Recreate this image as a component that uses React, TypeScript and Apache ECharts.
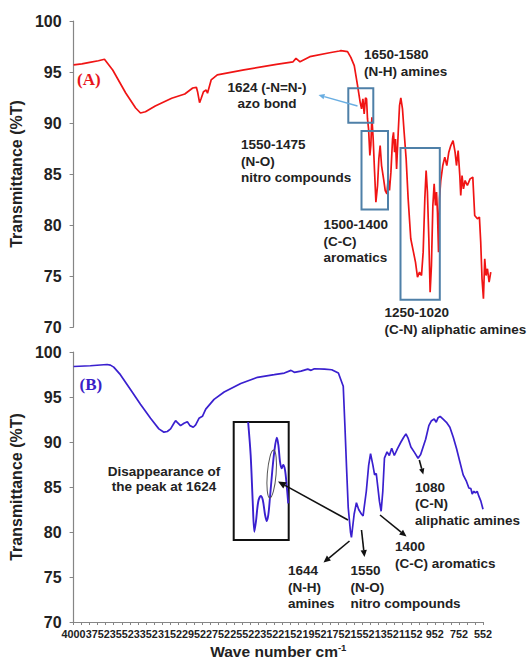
import React, { useEffect, useRef } from "react";
import * as echarts from "echarts";

// ---- Data ----
const xTickLabels = ["4000","3752","3552","3352","3152","2952","2752","2552","2352","2152","1952","1752","1552","1352","1152","952","752","552"];
const yTicks = [70, 75, 80, 85, 90, 95, 100];

const topWavenumber = [4000,3930,3864,3790,3739,3669,3559,3475,3434,3392,3309,3170,3059,2992,2961,2951,2934,2920,2901,2878,2867,2836,2784,2559,2284,2143,2118,2084,2001,1834,1751,1738,1682,
  1654,1625,1597,1575,1563,1552,1541,1530,1521,1513,1504,1493,1485,1476,1465,1453,1442,1428,1417,1406,1394,1377,1363,1349,1338,1327,1315,1301,1293,1284,1276,1267,1253,1242,1231,1217,1203,1186,1169,1147,1124,1107,1090,1073,1056,1042,1028,1017,1006,994,983,972,960,949,938,929,921,912,904,893,876,859,842,825,808,789,772,760,746,732,724,713,701,687,668,645,622,606,583,566,555,544,532,521,510,498,484,470];
const topTransmittance = [95.69,95.8,95.95,96.1,96.25,95.2,92.94,91.47,90.98,91.1,91.67,92.42,92.84,93.43,93.5,93.07,91.99,92.42,93.07,93.24,92.91,94.22,94.71,95.2,95.75,96.0,96.34,96.0,96.5,96.89,97.06,97.09,97.0,
  96.44,95.62,93.67,92.03,91.38,92.36,90.89,92.46,92.36,90.4,89.42,86.81,87.79,90.56,88.44,85.18,82.24,83.87,86.48,87.79,85.83,84.52,83.38,83.05,84.52,83.38,85.18,88.44,89.09,87.14,88.44,85.5,89.09,91.71,92.46,91.38,89.09,86.48,82.56,78.65,77.34,76.36,74.89,75.38,75.05,77.34,82.56,85.34,83.22,78.65,73.42,76.03,81.91,84.03,81.91,83.22,81.26,77.34,82.56,84.36,85.83,86.65,85.83,87.14,87.79,88.28,87.14,85.83,87.3,84.85,82.89,84.85,83.54,84.36,83.87,84.52,84.69,80.93,80.61,80.77,78.32,74.73,72.77,76.69,75.05,75.71,74.4,75.38];

const bottomWavenumber = [4000,3859,3718,3690,3662,3606,3521,3437,3352,3282,3239,3211,3183,3155,3141,3127,3099,3070,3042,3020,2992,2972,2944,2915,2887,2817,2732,2592,2451,2310,2225,2169,2141,2085,2028,2000,1972,1887,1826,1770,1729,1715,1701,1687,1668,1660,1637,1618,1599,1576,1562,1535,1515,1499,1479,1465,1451,1437,1424,1410,1396,1382,1360,1341,1321,1299,1271,1243,1221,1201,1182,1159,1132,1099,1077,1035,1008,986,963,946,930,913,888,860,831,803,775,747,719,691,671,654,643,629,615,601,587,570,552];
const bottomTransmittance = [98.39,98.47,98.61,98.54,98.32,97.48,95.84,94.2,92.63,91.46,91.09,91.17,91.46,92.08,92.37,92.19,91.82,92.08,92.26,91.82,91.64,91.9,92.63,92.85,93.65,94.74,95.55,96.5,97.19,97.48,97.66,97.96,97.74,97.88,98.1,97.96,98.14,98.1,98.03,97.67,96.2,91.8,87.1,82.7,80.0,79.4,82.0,83.25,82.5,82.0,81.8,84.5,87.4,88.7,87.4,86.35,86.5,84.9,83.4,82.3,84.5,88.2,88.9,88.5,89.3,88.5,89.3,90.0,90.5,90.9,90.4,89.45,88.9,88.2,88.6,90.3,91.82,92.37,92.55,92.19,92.7,92.85,92.55,92.19,91.64,90.55,89.27,87.81,86.35,85.62,84.89,84.82,84.23,84.53,84.34,84.53,83.98,83.43,82.52];

const insetWavenumber = [1657,1646,1637,1630,1623,1613,1602,1593,1583,1576,1569,1562,1552,1543,1532,1525,1518,1511,1504,1496,1489,1482];
const insetTransmittance = [93.0,89.08,83.54,79.98,81.17,83.54,84.22,83.74,81.97,81.25,81.97,83.95,87.1,89.47,91.14,90.27,88.29,87.5,87.9,87.3,85.52,83.35];

const zip = (xs: number[], ys: number[]) => xs.map((x, i) => [x, ys[i]]);

const FONT = '"Liberation Sans", Arial, sans-serif';
const TXT = "#222";
const AXIS = "#858585";

const WN_MAX = 4000;
const WN_MIN = 552;
const labelStep = (WN_MAX - WN_MIN) / 17;
const tickStep = (WN_MAX - WN_MIN) / 51;
const labelValues = xTickLabels.map((_, i) => WN_MAX - i * labelStep);
const tickValues = Array.from({ length: 52 }, (_, k) => WN_MAX - k * tickStep);

function textLines(lines: string[], x: number, y0: number, dy: number, align: string = "left", size = 13.5) {
  return lines.map((t, i) => ({
    type: "text",
    z: 100,
    style: {
      text: t,
      x,
      y: y0 + i * dy,
      fill: TXT,
      font: `bold ${size}px ${FONT}`,
      textAlign: align,
      textVerticalAlign: "middle",
      align,
      verticalAlign: "middle",
    },
  }));
}

function arrow(x1: number, y1: number, x2: number, y2: number, color: string, w = 1.5, head = 7) {
  const ang = Math.atan2(y2 - y1, x2 - x1);
  const bx = x2 - head * Math.cos(ang);
  const by = y2 - head * Math.sin(ang);
  const hw = head * 0.45;
  const px = -Math.sin(ang) * hw;
  const py = Math.cos(ang) * hw;
  return [
    { type: "line", z: 100, shape: { x1, y1, x2: bx, y2: by }, style: { stroke: color, lineWidth: w } },
    {
      type: "polygon",
      z: 100,
      shape: { points: [[x2, y2], [bx + px, by + py], [bx - px, by - py]] },
      style: { fill: color },
    },
  ];
}

function rect(x: number, y: number, w: number, h: number, color: string, lw = 2) {
  return { type: "rect", z: 100, shape: { x, y, width: w, height: h }, style: { stroke: color, fill: "none", lineWidth: lw } };
}

const yAxisCommon = {
  type: "value",
  min: 70,
  max: 100,
  interval: 5,
  axisLine: { show: true, lineStyle: { color: AXIS, width: 1.2 } },
  axisTick: { show: true, length: 4, lineStyle: { color: AXIS } },
  splitLine: { show: false },
  axisLabel: { color: TXT, fontWeight: "bold", fontSize: 16, fontFamily: FONT, margin: 12, formatter: (v: number) => (yTicks.includes(v) ? String(v) : "") },
  name: "Transmittance (%T)",
  nameLocation: "middle",
  nameGap: 42,
  nameTextStyle: { color: TXT, fontWeight: "bold", fontSize: 16, fontFamily: FONT },
};

export default function App() {
  const ref = useRef<HTMLDivElement>(null);
  useEffect(() => {
    document.body.style.margin = "0";
    if (!ref.current) return;
    const chart = echarts.init(ref.current, null, { renderer: "svg" });
    const graphics: any[] = [
      // labels (A)/(B)
      { type: "text", z: 100, style: { text: "(A)", x: 77, y: 79, fill: "#e8141c", font: `bold 17px "Liberation Serif", "Times New Roman", serif`, textVerticalAlign: "middle", verticalAlign: "middle" } },
      { type: "text", z: 100, style: { text: "(B)", x: 79.5, y: 384, fill: "#3a20c8", font: `bold 17px "Liberation Serif", "Times New Roman", serif`, textVerticalAlign: "middle", verticalAlign: "middle" } },
      // top boxes
      rect(348.3, 88.3, 25, 34.4, "#4f80a8"),
      rect(361.5, 131, 26.5, 78.5, "#4f80a8"),
      rect(400.5, 148, 39.3, 151.8, "#4f80a8"),
      ...arrow(357.5, 106, 318.5, 95, "#6aaee2", 1.5, 6),
      ...textLines(["1650-1580", "(N-H) amines"], 364, 54, 17.3),
      ...textLines(["1624 (-N=N-)", "azo bond"], 267, 87.3, 16, "center"),
      ...textLines(["1550-1475", "(N-O)", "nitro compounds"], 241, 144.5, 16.7),
      ...textLines(["1500-1400", "(C-C)", "aromatics"], 323.4, 224.5, 16.7),
      ...textLines(["1250-1020", "(C-N) aliphatic amines"], 384.5, 312.5, 17),
      // bottom annotations
      {
        type: "ellipse",
        z: 100,
        x: 271.7,
        y: 474,
        rotation: -0.08,
        shape: { cx: 0, cy: 0, rx: 4.4, ry: 24 },
        style: { stroke: "#555", fill: "none", lineWidth: 1 },
      },
      ...arrow(348, 520, 278, 481.5, "#111", 1.6, 8),
      ...arrow(349.5, 541, 323.5, 562.5, "#111", 1.6, 7),
      ...arrow(361.5, 530, 364.5, 557, "#111", 1.6, 7),
      ...arrow(380, 515, 406.5, 536.5, "#111", 1.6, 7),
      ...arrow(419.3, 460, 423.3, 474.5, "#111", 1.6, 6),
      ...textLines(["Disappearance of", "the peak at 1624"], 164, 471.7, 15.2, "center"),
      ...textLines(["1644", "(N-H)", "amines"], 288, 570.5, 16.5),
      ...textLines(["1550", "(N-O)", "nitro compounds"], 350.4, 570.5, 16.5),
      ...textLines(["1400", "(C-C) aromatics"], 395, 546.7, 16.6),
      ...textLines(["1080", "(C-N)", "aliphatic amines"], 415, 487.3, 16.5),
    ];

    chart.setOption({
      animation: false,
      backgroundColor: "#ffffff",
      grid: [
        { left: 67, top: 21, width: 424, height: 306, containLabel: false },
        { left: 69, top: 352, width: 414, height: 274, containLabel: false },
        { left: 233.7, top: 422, width: 55, height: 118, show: true, borderColor: "#111", borderWidth: 2, backgroundColor: "transparent" },
      ],
      xAxis: [
        { type: "value", gridIndex: 0, min: 468, max: 4000, inverse: true, show: false },
        {
          type: "value",
          gridIndex: 1,
          min: WN_MIN,
          max: WN_MAX,
          inverse: true,
          axisLine: { show: true, lineStyle: { color: AXIS, width: 1.2 } },
          axisTick: { show: true, length: 3, customValues: tickValues, lineStyle: { color: AXIS } },
          splitLine: { show: false },
          axisLabel: {
            customValues: labelValues,
            color: TXT,
            fontWeight: "bold",
            fontSize: 10.8,
            fontFamily: FONT,
            margin: 6,
            formatter: (v: number) => {
              const idx = Math.round((WN_MAX - v) / labelStep);
              return xTickLabels[idx] ?? "";
            },
          },
          name: "{a|Wave number cm}{b|-1}",
          nameLocation: "middle",
          nameGap: 20,
          nameTextStyle: {
            rich: {
              a: { color: TXT, fontWeight: "bold", fontSize: 15.5, fontFamily: FONT, lineHeight: 18 },
              b: { color: TXT, fontWeight: "bold", fontSize: 9.5, fontFamily: FONT, verticalAlign: "top", padding: [0, 0, 8, 0], lineHeight: 18 },
            },
          },
        },
        { type: "value", gridIndex: 2, min: 1480, max: 1720, inverse: true, show: false },
      ],
      yAxis: [
        { ...yAxisCommon, gridIndex: 0 },
        { ...yAxisCommon, gridIndex: 1 },
        { type: "value", gridIndex: 2, min: 79, max: 93, show: false, splitLine: { show: false } },
      ],
      series: [
        {
          type: "line",
          xAxisIndex: 0,
          yAxisIndex: 0,
          data: zip(topWavenumber, topTransmittance),
          showSymbol: false,
          symbol: "none",
          lineStyle: { color: "#f01414", width: 1.7 },
        },
        {
          type: "line",
          xAxisIndex: 1,
          yAxisIndex: 1,
          data: zip(bottomWavenumber, bottomTransmittance),
          showSymbol: false,
          symbol: "none",
          lineStyle: { color: "#3a20cf", width: 1.7 },
        },
        {
          type: "line",
          xAxisIndex: 2,
          yAxisIndex: 2,
          data: zip(insetWavenumber, insetTransmittance),
          showSymbol: false,
          symbol: "none",
          smooth: 0.3,
          clip: true,
          lineStyle: { color: "#3a20cf", width: 1.9 },
        },
      ],
      graphic: graphics,
    });
    return () => chart.dispose();
  }, []);
  return <div ref={ref} style={{ width: 532, height: 661 }} />;
}
